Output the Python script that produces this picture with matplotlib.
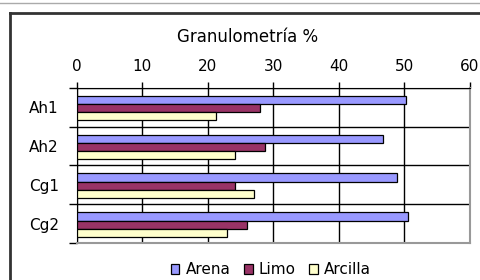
import matplotlib.pyplot as plt
import numpy as np
from matplotlib.lines import Line2D

horizons = ['Ah1', 'Ah2', 'Cg1', 'Cg2']
arena = [50.3, 46.7, 48.8, 50.6]
limo = [28.0, 28.8, 24.2, 26.0]
arcilla = [21.2, 24.2, 27.0, 23.0]
xticks = [0, 10, 20, 30, 40, 50, 60]

plt.rcParams['font.family'] = ['DejaVu Sans']

fig = plt.figure(figsize=(4.8, 2.8), dpi=100)
ax = fig.add_axes([0.16, 0.131, 0.819, 0.556])

y = np.arange(len(horizons))
h = 0.21
series = [(arena, '#9999FF', 'Arena', -h), (limo, '#993366', 'Limo', 0), (arcilla, '#FFFFCC', 'Arcilla', h)]
for vals, col, lab, off in series:
    ax.barh(y + off + 0.02, vals, height=h, color=col, edgecolor='black', linewidth=0.9, label=lab, zorder=3)

ax.set_xlim(0, 60)
ax.set_ylim(len(horizons) - 0.5, -0.5)
ax.set_xticks(xticks)
ax.xaxis.tick_top()
ax.tick_params(axis='x', direction='out', length=4, width=1, labelsize=11, pad=6)
ax.set_yticks(y)
ax.set_yticklabels(horizons)
ax.set_yticks(np.arange(-0.5, len(horizons)), minor=True)
ax.tick_params(axis='y', which='major', length=0, labelsize=11, pad=13)
ax.tick_params(axis='y', which='minor', length=6, width=1)
ax.grid(axis='x', which='major', color='black', linewidth=1, zorder=0)
ax.grid(axis='y', which='minor', color='black', linewidth=1, zorder=0)
ax.set_axisbelow(True)

for s in ['top', 'left']:
    ax.spines[s].set_color('black')
for s in ['right', 'bottom']:
    ax.spines[s].set_color('#999999')
    ax.spines[s].set_linewidth(1.5)

fig.text(248 / 480, 1 - 37 / 280, 'Granulometría %', fontsize=12, ha='center', va='center')

fig.legend(loc='center', bbox_to_anchor=(271 / 480, 1 - 270 / 280), ncol=3, frameon=False,
           fontsize=11, handlelength=0.55, handleheight=0.55, handletextpad=0.4, columnspacing=0.9,
           borderpad=0)

# outer chart border and top separator
fig.add_artist(Line2D([0, 1], [1 - 3 / 280, 1 - 3 / 280], color='#AAAAAA', linewidth=1))
fig.add_artist(Line2D([10 / 480, 10 / 480], [0, 1 - 13 / 280], color='#333333', linewidth=2))
fig.add_artist(Line2D([10 / 480, 1], [1 - 13 / 280, 1 - 13 / 280], color='#333333', linewidth=2))

fig.savefig('out.png', dpi=100)
